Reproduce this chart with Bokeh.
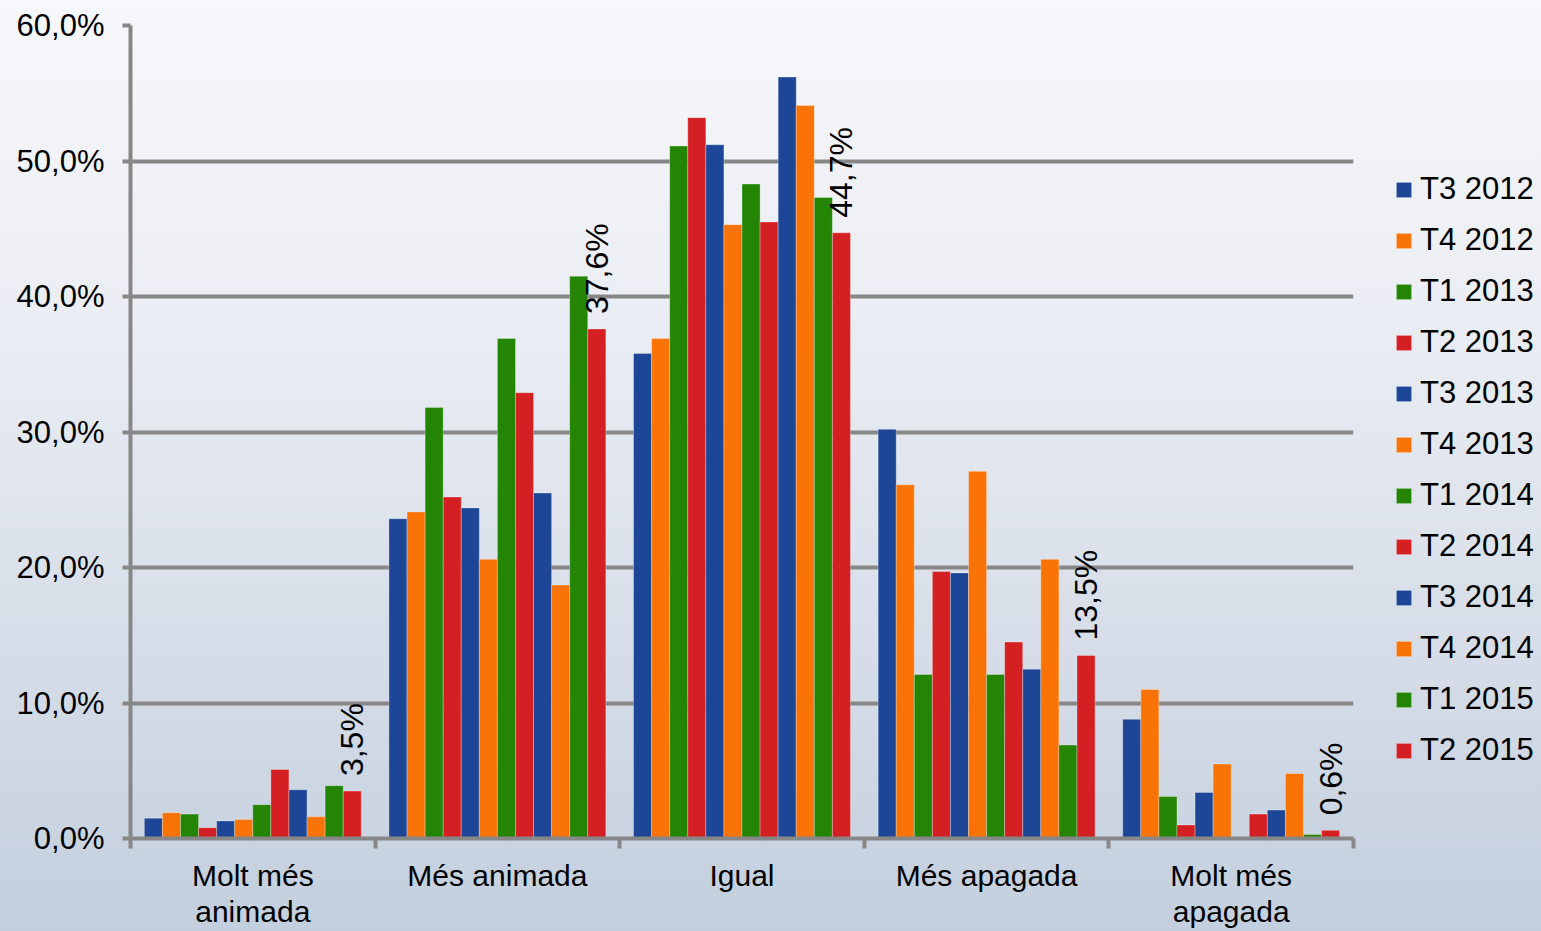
import math
from bokeh.plotting import figure
from bokeh.models import (Range1d, FixedTicker, Legend, LegendItem, GlobalInlineStyleSheet)
from bokeh.core.properties import value
from bokeh.embed import file_html
from bokeh.resources import INLINE

categories = ["Molt més\nanimada", "Més animada", "Igual", "Més apagada", "Molt més\napagada"]
series = ["T3 2012", "T4 2012", "T1 2013", "T2 2013", "T3 2013", "T4 2013",
          "T1 2014", "T2 2014", "T3 2014", "T4 2014", "T1 2015", "T2 2015"]

t3_2012 = [1.5, 23.6, 35.8, 30.2, 8.8]
t4_2012 = [1.9, 24.1, 36.9, 26.1, 11.0]
t1_2013 = [1.8, 31.8, 51.1, 12.1, 3.1]
t2_2013 = [0.8, 25.2, 53.2, 19.7, 1.0]
t3_2013 = [1.3, 24.4, 51.2, 19.6, 3.4]
t4_2013 = [1.4, 20.6, 45.3, 27.1, 5.5]
t1_2014 = [2.5, 36.9, 48.3, 12.1, 0.0]
t2_2014 = [5.1, 32.9, 45.5, 14.5, 1.8]
t3_2014 = [3.6, 25.5, 56.2, 12.5, 2.1]
t4_2014 = [1.6, 18.7, 54.1, 20.6, 4.8]
t1_2015 = [3.9, 41.5, 47.3, 6.9, 0.3]
t2_2015 = [3.5, 37.6, 44.7, 13.5, 0.6]

values = [t3_2012, t4_2012, t1_2013, t2_2013, t3_2013, t4_2013,
          t1_2014, t2_2014, t3_2014, t4_2014, t1_2015, t2_2015]

y_ticks = [0, 10, 20, 30, 40, 50, 60]
y_tick_labels = ["0,0%", "10,0%", "20,0%", "30,0%", "40,0%", "50,0%", "60,0%"]

palette = ["#1D4697", "#F97307", "#238503", "#D42022"]
GRID = "#878787"
FONT = "Liberation Sans"

p = figure(frame_width=1223, frame_height=813, output_backend="svg", toolbar_location=None,
           x_range=Range1d(0, 5), y_range=Range1d(0, 60),
           min_border_left=130, min_border_right=180, min_border_top=25, min_border_bottom=0)
p.background_fill_alpha = 0
p.border_fill_alpha = 0
p.outline_line_color = None
p.stylesheets = [GlobalInlineStyleSheet(css="html { background: linear-gradient(180deg, #f7f8fb 0%, #eaedf3 35%, #d6dde8 70%, #c3cfde 100%) fixed; }")]

n = len(series)
bw = 0.0739
items = []
for j, (name, vals) in enumerate(zip(series, values)):
    xs = [i + 0.5 + (j - (n - 1) / 2) * bw for i in range(len(categories))]
    r = p.vbar(x=xs, top=vals, width=bw, fill_color=palette[j % 4],
               line_color="white", line_alpha=0.3, line_width=1)
    items.append(LegendItem(label=name, renderers=[r]))

# data labels on last series
last = values[-1]
lx = [i + 0.5 + ((n - 1) / 2) * bw for i in range(len(categories))]
ltxt = [f"{v:.1f}".replace(".", ",") + "%" for v in last]
p.text(x=lx, y=last, text=ltxt, angle=math.pi / 2, text_align="left", text_baseline="middle",
       y_offset=-15, text_font=value(FONT), text_font_size="32px", text_color="black")

# axes
xax = p.xaxis[0]
xax.ticker = FixedTicker(ticks=[i + 0.5 for i in range(5)], minor_ticks=[0, 1, 2, 3, 4, 5])
xax.major_label_overrides = {i + 0.5: c for i, c in enumerate(categories)}
xax.major_tick_out = 0
xax.major_tick_in = 0
xax.minor_tick_out = 10
xax.minor_tick_in = 0
xax.minor_tick_line_color = GRID
xax.minor_tick_line_width = 4
xax.axis_line_color = GRID
xax.axis_line_width = 4
xax.major_label_text_font = FONT
xax.major_label_text_font_size = "30px"
xax.major_label_text_color = "black"
xax.major_label_standoff = 10
xax.major_label_text_line_height = 1.1

yax = p.yaxis[0]
yax.ticker = FixedTicker(ticks=y_ticks, minor_ticks=[])
yax.major_label_overrides = {t: l for t, l in zip(y_ticks, y_tick_labels)}
yax.major_tick_out = 8
yax.major_tick_in = 0
yax.major_tick_line_color = GRID
yax.major_tick_line_width = 4
yax.axis_line_color = GRID
yax.axis_line_width = 4
yax.major_label_text_font = FONT
yax.major_label_text_font_size = "31px"
yax.major_label_text_color = "black"
yax.major_label_standoff = 18

p.xgrid.visible = False
p.ygrid.ticker = FixedTicker(ticks=y_ticks)
p.ygrid.grid_line_color = GRID
p.ygrid.grid_line_width = 4

legend = Legend(items=items, location=(41, 70), orientation="vertical",
                padding=0, margin=0, spacing=15, label_height=36, glyph_height=19, glyph_width=19,
                label_standoff=7, label_text_font=FONT, label_text_font_size="31px",
                label_text_color="black", border_line_color=None, background_fill_alpha=0)
p.add_layout(legend, "right")

open("out.html", "w").write(file_html(p, INLINE))
